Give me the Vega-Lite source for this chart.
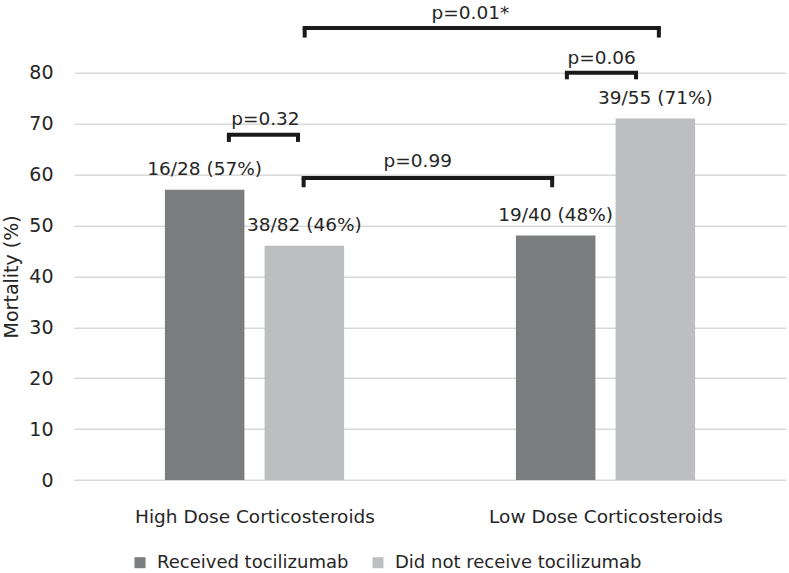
{
  "$schema": "https://vega.github.io/schema/vega-lite/v6.json",
  "autosize": {"type": "none"},
  "width": 712,
  "height": 407.3,
  "padding": {"left": 74, "top": 72.7, "right": 3, "bottom": 93},
  "background": "white",
  "config": {
    "view": {"stroke": null},
    "font": "DejaVu Sans",
    "text": {"font": "DejaVu Sans"}
  },
  "datasets": {
    "bars": [
      {"group": "High Dose Corticosteroids", "series": "Received tocilizumab", "pos": 0.358, "value": 57, "label": "16/28 (57%)"},
      {"group": "High Dose Corticosteroids", "series": "Did not receive tocilizumab", "pos": 0.642, "value": 46, "label": "38/82 (46%)"},
      {"group": "Low Dose Corticosteroids", "series": "Received tocilizumab", "pos": 1.358, "value": 48, "label": "19/40 (48%)"},
      {"group": "Low Dose Corticosteroids", "series": "Did not receive tocilizumab", "pos": 1.642, "value": 71, "label": "39/55 (71%)"}
    ],
    "brackets": [
      {"p": "p=0.32", "x1": 0.427, "x2": 0.624, "y": 67.8, "yEnd": 66.4, "lx": 0.531, "ly": 70.9},
      {"p": "p=0.99", "x1": 0.640, "x2": 1.348, "y": 59.3, "yEnd": 57.5, "lx": 0.965, "ly": 62.7},
      {"p": "p=0.06", "x1": 1.390, "x2": 1.587, "y": 80.0, "yEnd": 78.7, "lx": 1.489, "ly": 82.9},
      {"p": "p=0.01*", "x1": 0.643, "x2": 1.652, "y": 88.8, "yEnd": 86.9, "lx": 1.115, "ly": 91.7}
    ]
  },
  "layer": [
    {
      "data": {"name": "bars"},
      "mark": {"type": "bar", "size": 79.5},
      "encoding": {
        "x": {
          "field": "pos", "type": "quantitative",
          "scale": {"domain": [0, 2], "nice": false, "zero": false},
          "axis": {
            "values": [0.5, 1.5],
            "labelExpr": "datum.value < 1 ? 'High Dose Corticosteroids' : 'Low Dose Corticosteroids'",
            "grid": false, "domain": false, "ticks": false,
            "labelFont": "DejaVu Sans", "labelFontSize": 18.5, "labelColor": "#262626",
            "labelPadding": 27, "labelLimit": 0, "title": null
          }
        },
        "y": {
          "field": "value", "type": "quantitative",
          "scale": {"domain": [0, 80], "nice": false},
          "axis": {
            "values": [0, 10, 20, 30, 40, 50, 60, 70, 80],
            "grid": true, "gridColor": "#d9d9d9", "gridWidth": 1.5,
            "domain": false, "ticks": false,
            "labelFont": "DejaVu Sans", "labelFontSize": 19, "labelColor": "#262626",
            "labelPadding": 21,
            "title": "Mortality (%)", "titleFont": "DejaVu Sans", "titleFontSize": 19,
            "titleFontWeight": "normal", "titleColor": "#262626", "titlePadding": 7
          }
        },
        "color": {
          "field": "series", "type": "nominal",
          "scale": {"domain": ["Received tocilizumab", "Did not receive tocilizumab"], "range": ["#7b7c7e", "#bdbec0"]},
          "legend": {
            "title": null, "orient": "none", "direction": "horizontal",
            "legendX": 57, "legendY": 481,
            "symbolType": "square", "symbolSize": 121, "symbolStrokeWidth": 0,
            "labelFont": "DejaVu Sans", "labelFontSize": 18, "labelColor": "#262626",
            "labelOffset": 8, "columnPadding": 20, "labelLimit": 0
          }
        }
      }
    },
    {
      "data": {"name": "bars"},
      "mark": {"type": "text", "baseline": "middle", "align": "center", "dy": -21, "fontSize": 18.5, "color": "#262626", "font": "DejaVu Sans"},
      "encoding": {
        "x": {"field": "pos", "type": "quantitative"},
        "y": {"field": "value", "type": "quantitative"},
        "text": {"field": "label"}
      }
    },
    {
      "data": {"name": "brackets"},
      "mark": {"type": "rule", "strokeWidth": 4, "color": "#1a1a1a", "strokeCap": "square"},
      "encoding": {
        "x": {"field": "x1", "type": "quantitative"},
        "x2": {"field": "x2"},
        "y": {"field": "y", "type": "quantitative"}
      }
    },
    {
      "data": {"name": "brackets"},
      "transform": [{"fold": ["x1", "x2"], "as": ["end", "xv"]}],
      "mark": {"type": "rule", "strokeWidth": 4, "color": "#1a1a1a", "strokeCap": "butt"},
      "encoding": {
        "x": {"field": "xv", "type": "quantitative"},
        "y": {"field": "y", "type": "quantitative"},
        "y2": {"field": "yEnd"}
      }
    },
    {
      "data": {"name": "brackets"},
      "mark": {"type": "text", "baseline": "middle", "align": "center", "fontSize": 18.5, "color": "#262626", "font": "DejaVu Sans"},
      "encoding": {
        "x": {"field": "lx", "type": "quantitative"},
        "y": {"field": "ly", "type": "quantitative"},
        "text": {"field": "p"}
      }
    }
  ]
}
